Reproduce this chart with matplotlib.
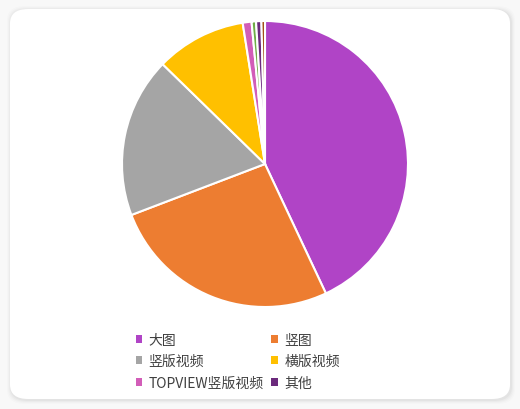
import matplotlib.pyplot as plt
from matplotlib.patches import FancyBboxPatch, Patch

plt.rcParams['font.family'] = ['Noto Sans CJK SC', 'DejaVu Sans']

# slice order clockwise from 12 o'clock
labels = ['大图', '竖图', '竖版视频', '横版视频', 'TOPVIEW竖版视频', '其他', '', '']
values = [43.0, 26.2, 18.1, 10.2, 1.0, 0.5, 0.6, 0.4]
colors = ['#B044C6', '#ED7D31', '#A5A5A5', '#FFC000', '#D25DB8', '#70AD47', '#6B2A7C', '#9E480E']
# legend shows only the named categories; 其他 uses the dark purple swatch
legend_colors = ['#B044C6', '#ED7D31', '#A5A5A5', '#FFC000', '#D25DB8', '#6B2A7C']

W, H = 520, 410
fig = plt.figure(figsize=(W / 100, H / 100), dpi=100)
fig.patch.set_facecolor('#f8f8f8')

# card with soft shadow
for i, a in enumerate([0.012, 0.016, 0.022, 0.03]):
    g = 4 - i
    fig.patches.append(FancyBboxPatch(
        ((10 - g + 1) / W, 1 - (400 + g + 1) / H), (500 + 2 * g) / W, (390 + 2 * g) / H,
        boxstyle='round,pad=0,rounding_size=0.035', transform=fig.transFigure,
        facecolor='black', edgecolor='none', alpha=a, zorder=-3))
fig.patches.append(FancyBboxPatch(
    (10 / W, 1 - 400 / H), 500 / W, 390 / H,
    boxstyle='round,pad=0,rounding_size=0.035', transform=fig.transFigure,
    facecolor='white', edgecolor='none', zorder=-2))

cx, cy, r = 265, 165, 143
ax = fig.add_axes([(cx - r) / W, 1 - (cy + r) / H, 2 * r / W, 2 * r / H])
ax.set_zorder(2)
ax.pie(values, colors=colors, startangle=90, counterclock=False,
       wedgeprops=dict(edgecolor='white', linewidth=1.5))
ax.set_xlim(-1, 1)
ax.set_ylim(-1, 1)
ax.set_aspect('equal')
ax.axis('off')

names = labels[:6]
handles = [Patch(facecolor=c, edgecolor='none') for c in legend_colors]
order = [0, 2, 4, 1, 3, 5]
leg = fig.legend([handles[i] for i in order], [names[i] for i in order],
                 ncol=2, frameon=False, loc='upper left',
                 bbox_to_anchor=(123 / W, 1 - 321 / H),
                 fontsize=10, labelcolor='#404040',
                 handlelength=0.5, handleheight=0.5, handletextpad=0.45,
                 columnspacing=0.55, labelspacing=0.55)
leg.set_zorder(3)

fig.savefig('out.png', dpi=100, facecolor=fig.get_facecolor())
